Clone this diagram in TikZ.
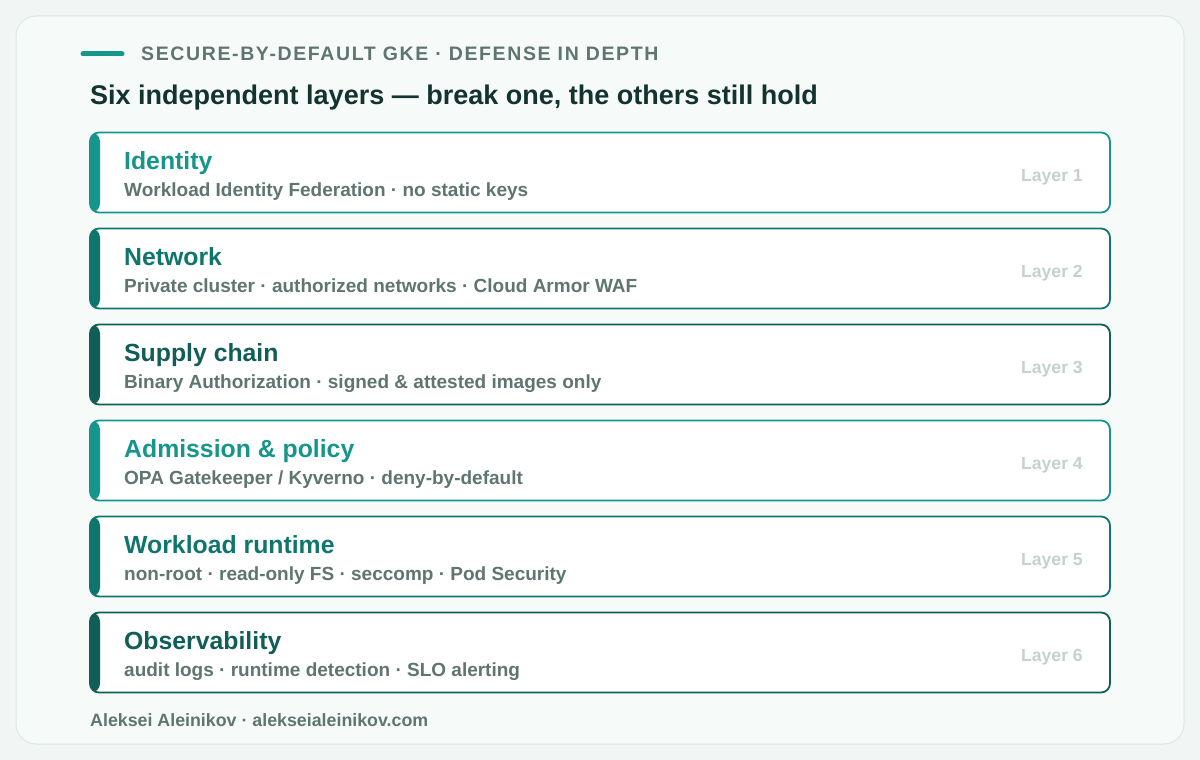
\documentclass[tikz,border=0pt]{standalone}
\usepackage{fontspec}
\setmainfont{Liberation Sans}
\definecolor{lyBack}{HTML}{F1F6F5}
\definecolor{lyCard}{HTML}{F6FAF9}
\definecolor{lyEdge}{HTML}{DCE8E5}
\definecolor{lyTealA}{HTML}{16958A}
\definecolor{lyTealB}{HTML}{0F766E}
\definecolor{lyTealC}{HTML}{115E59}
\definecolor{lyInk}{HTML}{13332F}
\definecolor{lyMuted}{HTML}{5F7571}
\definecolor{lyFaint}{HTML}{C3D2CF}
\usetikzlibrary{positioning}

\begin{document}
\begin{tikzpicture}[x=1pt,y=-1pt,
                    layer/.style={draw=#1,line width=1.8pt,rounded corners=9pt,fill=white,
                                  minimum width=1020pt,minimum height=80pt,inner sep=0pt,outer sep=0pt,
                                  path picture={\fill[#1] (path picture bounding box.north west)
                                    rectangle ([xshift=10pt]path picture bounding box.south west);}},
                    ltitle/.style={anchor=base west,inner sep=0pt,text=#1,
                                   font=\fontsize{24.8}{28}\selectfont\bfseries},
                    lsub/.style={anchor=base west,inner sep=0pt,text=lyMuted,
                                 font=\fontsize{19}{22}\selectfont\bfseries},
                    lnum/.style={anchor=base east,inner sep=0pt,text=lyFaint,
                                 font=\fontsize{17.6}{20}\selectfont\bfseries}]
  \useasboundingbox[fill=lyBack] (0,0) rectangle (1200,760);
  \draw[lyEdge,fill=lyCard,rounded corners=20pt,line width=1pt] (16,16) rectangle (1184,744);
  % header
  \draw[lyTealA,line width=5pt,line cap=round] (83,54) -- (122,54);
  \node[anchor=base west,inner sep=0pt,text=lyMuted,
        font=\fontsize{19.5}{22}\selectfont\bfseries\addfontfeature{LetterSpace=8.3}]
    (kicker) at (141,61) {SECURE-BY-DEFAULT GKE · DEFENSE IN DEPTH};
  \node[anchor=base west,inner sep=0pt,text=lyInk,font=\fontsize{27}{30}\selectfont\bfseries]
    (headline) at (90,104) {Six independent layers — break one, the others still hold};
  % the six layers
  \node[layer=lyTealA,anchor=north west] (identity) at (90,132.5) {};
  \node[layer=lyTealB,below=16pt of identity] (network) {};
  \node[layer=lyTealC,below=16pt of network] (supply) {};
  \node[layer=lyTealA,below=16pt of supply] (admission) {};
  \node[layer=lyTealB,below=16pt of admission] (runtime) {};
  \node[layer=lyTealC,below=16pt of runtime] (observe) {};
  \node[ltitle=lyTealA] at ([shift={(34,36.5)}]identity.north west) {Identity};
  \node[lsub] at ([shift={(34,63.5)}]identity.north west) {Workload Identity Federation · no static keys};
  \node[lnum] at ([shift={(-27,48.5)}]identity.north east) {Layer 1};
  \node[ltitle=lyTealB] at ([shift={(34,36.5)}]network.north west) {Network};
  \node[lsub] at ([shift={(34,63.5)}]network.north west) {Private cluster · authorized networks · Cloud Armor WAF};
  \node[lnum] at ([shift={(-27,48.5)}]network.north east) {Layer 2};
  \node[ltitle=lyTealC] at ([shift={(34,36.5)}]supply.north west) {Supply chain};
  \node[lsub] at ([shift={(34,63.5)}]supply.north west) {Binary Authorization · signed \& attested images only};
  \node[lnum] at ([shift={(-27,48.5)}]supply.north east) {Layer 3};
  \node[ltitle=lyTealA] at ([shift={(34,36.5)}]admission.north west) {Admission \& policy};
  \node[lsub] at ([shift={(34,63.5)}]admission.north west) {OPA Gatekeeper / Kyverno · deny-by-default};
  \node[lnum] at ([shift={(-27,48.5)}]admission.north east) {Layer 4};
  \node[ltitle=lyTealB] at ([shift={(34,36.5)}]runtime.north west) {Workload runtime};
  \node[lsub] at ([shift={(34,63.5)}]runtime.north west) {non-root · read-only FS · seccomp · Pod Security};
  \node[lnum] at ([shift={(-27,48.5)}]runtime.north east) {Layer 5};
  \node[ltitle=lyTealC] at ([shift={(34,36.5)}]observe.north west) {Observability};
  \node[lsub] at ([shift={(34,63.5)}]observe.north west) {audit logs · runtime detection · SLO alerting};
  \node[lnum] at ([shift={(-27,48.5)}]observe.north east) {Layer 6};
  % footer
  \node[anchor=base west,inner sep=0pt,text=lyMuted,font=\fontsize{17.8}{20}\selectfont\bfseries]
    (byline) at (90,726) {Aleksei Aleinikov · alekseialeinikov.com};
\end{tikzpicture}
\end{document}
